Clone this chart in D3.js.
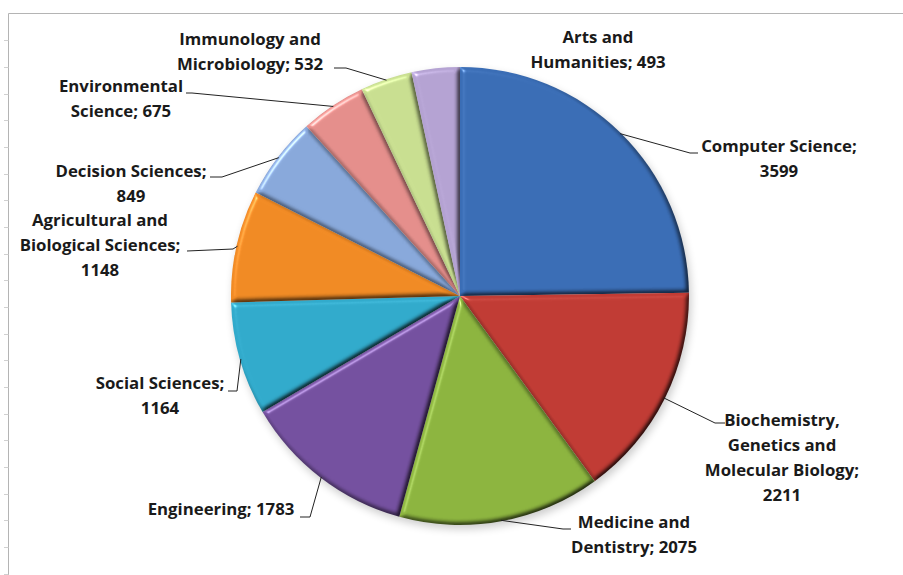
<!DOCTYPE html>
<html>
<head>
<meta charset="utf-8">
<script src="https://cdn.jsdelivr.net/npm/d3@7/dist/d3.min.js"></script>
<style>
  html, body { margin: 0; padding: 0; background: #fff; }
  svg { display: block; }
  text { font-family: "Open Sans", Lato, sans-serif; font-weight: 700; fill: #1a1a1a; white-space: pre; }
</style>
</head>
<body>
<svg id="chart" width="903" height="575"></svg>
<script>
// Publications by subject area
const categories = [
  "Computer Science",
  "Biochemistry, Genetics and Molecular Biology",
  "Medicine and Dentistry",
  "Engineering",
  "Social Sciences",
  "Agricultural and Biological Sciences",
  "Decision Sciences",
  "Environmental Science",
  "Immunology and Microbiology",
  "Arts and Humanities"
];
const values = [3599, 2211, 2075, 1783, 1164, 1148, 849, 675, 532, 493];
const colors = [
  "#3a6db5", "#c03b34", "#8cb43f", "#74509f", "#31aacb",
  "#f08a24", "#88a8da", "#e48e8b", "#c8de90", "#b4a2d2"
];

// Label layout: words per line, centre x, first baseline, leader elbow and end
const labelLayout = [
  { words: [2, 1],       x: 779, y: 152, leader: [[690, 153], [698, 153]] },
  { words: [1, 2, 2, 1], x: 782, y: 426, leader: [[715, 423], [725, 423]] },
  { words: [2, 2],       x: 634, y: 528, leader: [[563, 529], [571, 529]] },
  { words: [2],          x: 221, y: 515, leader: [[310, 517], [300, 517]] },
  { words: [2, 1],       x: 160, y: 389, leader: [[237, 391], [228, 391]] },
  { words: [2, 2, 1],    x: 100, y: 226, leader: [[233, 249], [187, 251]] },
  { words: [2, 1],       x: 131, y: 177, leader: [[222, 177], [210, 177]] },
  { words: [1, 2],       x: 121, y: 92,  leader: [[192, 93], [186, 93]] },
  { words: [2, 2],       x: 250, y: 45,  leader: [[346, 68], [334, 68]] },
  { words: [2, 2],       x: 598, y: 43,  leader: null }
];

const svg = d3.select("#chart");
const W = 903, H = 575;
const cx = 460, cy = 296, R = 229;
const lineH = 25;

// worksheet frame with row ticks
const frame = svg.append("g");
frame.append("line").attr("x1", 8.5).attr("x2", W).attr("y1", 13.5).attr("y2", 13.5)
  .attr("stroke", "#b4b4b4").attr("stroke-width", 1);
frame.append("line").attr("x1", 8.5).attr("x2", 8.5).attr("y1", 13.5).attr("y2", H)
  .attr("stroke", "#b4b4b4").attr("stroke-width", 1);
const rowY = d3.range(13.5 + 26.67, H, 26.67);
frame.selectAll("line.tick").data(rowY).join("line").attr("class", "tick")
  .attr("x1", 4).attr("x2", 8.5).attr("y1", d => Math.round(d) + 0.5).attr("y2", d => Math.round(d) + 0.5)
  .attr("stroke", "#d0d0d0");

const defs = svg.append("defs");
// soft shadow under the pie
const sh = defs.append("filter").attr("id", "shadow").attr("x", "-20%").attr("y", "-20%").attr("width", "140%").attr("height", "140%");
sh.append("feGaussianBlur").attr("stdDeviation", 4);

// rounded bevel on each slice, lit from the upper left
const bev = defs.append("filter").attr("id", "bevel")
  .attr("x", "-5%").attr("y", "-5%").attr("width", "110%").attr("height", "110%")
  .attr("color-interpolation-filters", "sRGB");
bev.append("feGaussianBlur").attr("in", "SourceAlpha").attr("stdDeviation", 2.4).attr("result", "blur");
const diff = bev.append("feDiffuseLighting").attr("in", "blur").attr("surfaceScale", 3)
  .attr("diffuseConstant", 1.0 / Math.sin(55 * Math.PI / 180)).attr("lighting-color", "#ffffff").attr("result", "diff");
diff.append("feDistantLight").attr("azimuth", 225).attr("elevation", 55);
const spec = bev.append("feSpecularLighting").attr("in", "blur").attr("surfaceScale", 3)
  .attr("specularConstant", 0.6).attr("specularExponent", 45).attr("lighting-color", "#ffffff").attr("result", "spec");
spec.append("feDistantLight").attr("azimuth", 225).attr("elevation", 40);
bev.append("feComposite").attr("in", "spec").attr("in2", "SourceAlpha").attr("operator", "in").attr("result", "specIn");
bev.append("feComposite").attr("in", "SourceGraphic").attr("in2", "diff").attr("operator", "arithmetic")
  .attr("k1", 1).attr("k2", 0).attr("k3", 0).attr("k4", 0).attr("result", "shaded");
bev.append("feComposite").attr("in", "shaded").attr("in2", "specIn").attr("operator", "arithmetic")
  .attr("k1", 0).attr("k2", 1).attr("k3", 0.6).attr("k4", 0);

const pie = d3.pie().sort(null).value(d => d)(values);
const arc = d3.arc().innerRadius(0).outerRadius(R);

const g = svg.append("g").attr("transform", `translate(${cx},${cy})`);
g.append("circle").attr("cx", 2).attr("cy", 4).attr("r", R)
  .attr("fill", "#000").attr("opacity", 0.2).attr("filter", "url(#shadow)");

g.selectAll("path.slice").data(pie).join("path").attr("class", "slice")
  .attr("d", arc)
  .attr("fill", (d, i) => colors[i])
  .attr("filter", "url(#bevel)");

// leader lines
const leaders = svg.append("g").attr("fill", "none").attr("stroke", "#222").attr("stroke-width", 1);
pie.forEach((d, i) => {
  const lay = labelLayout[i];
  if (!lay.leader) return;
  const mid = (d.startAngle + d.endAngle) / 2;
  const p0 = [cx + Math.sin(mid) * (R - 1), cy - Math.cos(mid) * (R - 1)];
  leaders.append("path").attr("d", d3.line()([p0, ...lay.leader]));
});

// labels
const labels = svg.append("g").attr("font-size", "16.8px").attr("text-anchor", "middle");
categories.forEach((name, i) => {
  const lay = labelLayout[i];
  const words = (name + "; " + values[i]).split(" ");
  const lines = [];
  let k = 0;
  lay.words.forEach(n => { lines.push(words.slice(k, k + n).join(" ")); k += n; });
  const t = labels.append("text").attr("x", lay.x).attr("y", lay.y);
  lines.forEach((ln, j) => {
    t.append("tspan").attr("x", lay.x).attr("y", lay.y + j * lineH).text(ln);
  });
});
</script>
</body>
</html>
